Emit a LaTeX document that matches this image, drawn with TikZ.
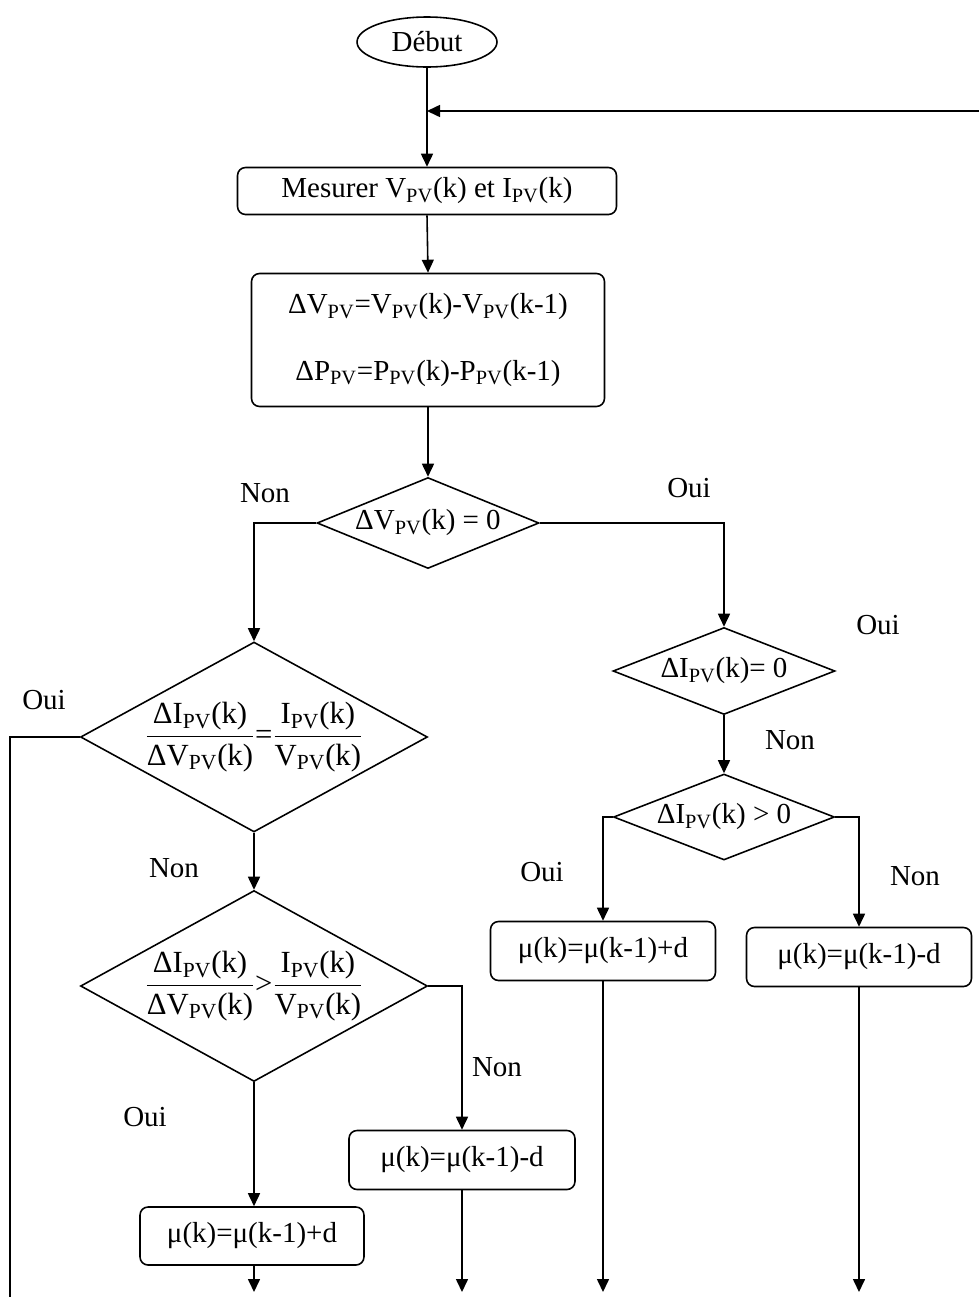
\documentclass[tikz,border=0pt]{standalone}
\usepackage{fontspec}
\setmainfont{Liberation Serif}
\usetikzlibrary{arrows.meta,shapes.geometric,calc}
\tikzset{
  base/.style={draw=black, line width=0.9pt, align=center, font=\fontsize{16.5}{19}\selectfont},
  startnode/.style={base, ellipse, minimum width=2.8cm, minimum height=1cm, inner sep=0pt},
  procbox/.style={base, rounded corners=1.6mm, inner sep=0pt},
  decision/.style={base, diamond, inner sep=0pt},
  arrow/.style={-{Triangle[length=2.6mm,width=2.4mm]}, line width=0.9pt},
  line/.style={line width=0.9pt},
  lbl/.style={font=\fontsize{16.5}{19}\selectfont}
}
\newcommand{\pv}{\textsubscript{PV}}
\newcommand{\frc}[2]{$\displaystyle\frac{\mbox{#1}}{\mbox{#2}}$}

\begin{document}
\begin{tikzpicture}[x=0.02cm, y=-0.02cm]
  \useasboundingbox (0,0) rectangle (979,1299);

  % main column
  \node[startnode] (start) at (427,42) {Début};
  \node[procbox, minimum width=7.58cm, minimum height=0.94cm] (meas) at (427,191) {Mesurer V\pv(k) et I\pv(k)};
  \node[procbox, minimum width=7.06cm, minimum height=2.66cm] (calc) at (428,340)
    {ΔV\pv=V\pv(k)-V\pv(k-1)\\[19pt] ΔP\pv=P\pv(k)-P\pv(k-1)};
  \node[decision, aspect=2.44, minimum width=4.44cm, minimum height=1.82cm] (dv) at (428,523) {ΔV\pv(k) = 0};

  % left branch
  \node[decision, aspect=1.83, inner sep=-2pt, minimum width=6.94cm, minimum height=3.8cm, font=\fontsize{17.5}{20}\selectfont] (eq) at (254,737)
    {\frc{ΔI\pv(k)}{ΔV\pv(k)}\mbox{=}\frc{I\pv(k)}{V\pv(k)}};
  \node[decision, aspect=1.82, inner sep=-2pt, minimum width=6.94cm, minimum height=3.82cm, font=\fontsize{17.5}{20}\selectfont] (gt) at (254,986)
    {\frc{ΔI\pv(k)}{ΔV\pv(k)}\mbox{>}\frc{I\pv(k)}{V\pv(k)}};
  \node[procbox, minimum width=4.52cm, minimum height=1.18cm] (decm) at (462,1160) {μ(k)=μ(k-1)-d};
  \node[procbox, minimum width=4.48cm, minimum height=1.16cm] (incp) at (252,1236) {μ(k)=μ(k-1)+d};

  % right branch
  \node[decision, aspect=2.55, minimum width=4.44cm, minimum height=1.74cm] (di0) at (724,671) {ΔI\pv(k)= 0};
  \node[decision, aspect=2.57, minimum width=4.42cm, minimum height=1.72cm] (dipos) at (724,817) {ΔI\pv(k) > 0};
  \node[procbox, minimum width=4.5cm, minimum height=1.18cm] (incr) at (603,951) {μ(k)=μ(k-1)+d};
  \node[procbox, minimum width=4.5cm, minimum height=1.18cm] (decr) at (859,957) {μ(k)=μ(k-1)-d};

  % free ends
  \coordinate (loop) at (979,111);
  \coordinate (join) at (427,111);
  \coordinate (lb) at (10,1297);
  \coordinate (e1) at (incp.south |- 0,1292);
  \coordinate (e2) at (decm.south |- 0,1292);
  \coordinate (e3) at (incr.south |- 0,1292);
  \coordinate (e4) at (decr.south |- 0,1292);

  \draw[arrow] (start.south) -- (meas.north);
  \draw[arrow] (loop) -- (join);
  \draw[arrow] (meas.south) -- (calc.north);
  \draw[arrow] (calc.south) -- (dv.north);
  \draw[arrow] (dv.west) -| (eq.north);
  \draw[arrow] (dv.east) -| (di0.north);
  \draw[arrow] (eq.south) -- (gt.north);
  \draw[line] (eq.west) -| (lb);
  \draw[arrow] (gt.east) -| (decm.north);
  \draw[arrow] (gt.south) -- (gt.south |- incp.north);
  \draw[arrow] (di0.south) -- (dipos.north);
  \draw[arrow] (dipos.west) -| (incr.north);
  \draw[arrow] (dipos.east) -| (decr.north);
  \draw[arrow] (gt.south |- incp.south) -- (gt.south |- e1);
  \draw[arrow] (decm.south) -- (e2);
  \draw[arrow] (incr.south) -- (e3);
  \draw[arrow] (decr.south) -- (e4);

  % labels
  \node[lbl] (l1) at (265,493) {Non};
  \node[lbl] (l2) at (689,488) {Oui};
  \node[lbl] (l3) at (44,700) {Oui};
  \node[lbl] (l4) at (174,868) {Non};
  \node[lbl] (l5) at (145,1117) {Oui};
  \node[lbl] (l6) at (497,1067) {Non};
  \node[lbl] (l7) at (878,625) {Oui};
  \node[lbl] (l8) at (790,740) {Non};
  \node[lbl] (l9) at (542,872) {Oui};
  \node[lbl] (l10) at (915,876) {Non};
\end{tikzpicture}
\end{document}
